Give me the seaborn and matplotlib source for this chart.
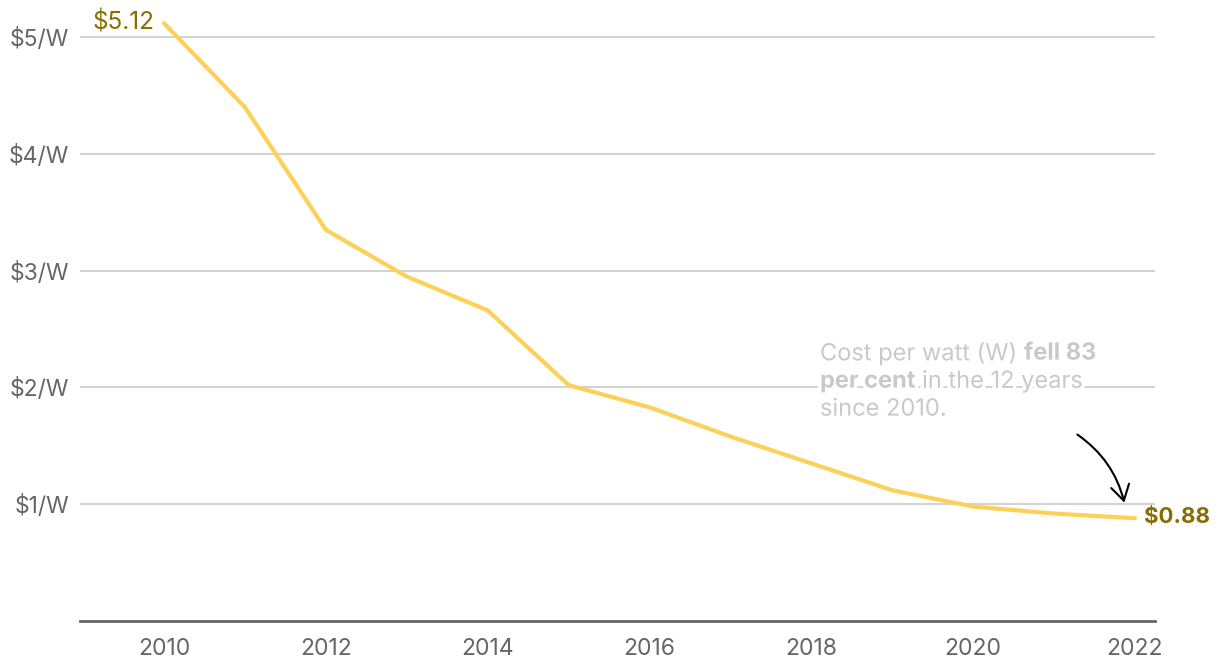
import matplotlib
matplotlib.use("Agg")
import matplotlib.pyplot as plt
import matplotlib.patheffects as pe
from matplotlib.transforms import offset_copy
import seaborn as sns
import pandas as pd

# data
years = [2010, 2011, 2012, 2013, 2014, 2015, 2016, 2017, 2018, 2019, 2020, 2021, 2022]
cost = [5.12, 4.40, 3.35, 2.95, 2.66, 2.02, 1.83, 1.58, 1.35, 1.12, 0.98, 0.92, 0.88]
ytick_vals = [1, 2, 3, 4, 5]
ytick_labels = ["\\$1/W", "\\$2/W", "\\$3/W", "\\$4/W", "\\$5/W"]
xtick_vals = [2010, 2012, 2014, 2016, 2018, 2020, 2022]

df = pd.DataFrame({"year": years, "cost": cost})

sns.set_style("white")
plt.rcParams["font.family"] = ["Inter", "DejaVu Sans"]

LINE = "#fdd158"
GOLD = "#8a6d00"
TICK = "#666666"
NOTE = "#c9c9c9"

fig = plt.figure(figsize=(12.2, 6.68), dpi=100)
ax = fig.add_axes([0.0656, 0.0704, 0.8811, 0.9089])

sns.lineplot(data=df, x="year", y="cost", ax=ax, color=LINE, linewidth=3,
             solid_capstyle="round", zorder=3)

ax.set_xlim(2008.962, 2022.247)
ax.set_ylim(0, 5.2)
ax.set_yticks(ytick_vals)
ax.set_yticklabels(ytick_labels)
ax.set_xticks(xtick_vals)
ax.set_xlabel("")
ax.set_ylabel("")
ax.yaxis.grid(True, color="#d3d3d3", linewidth=1.5)
ax.set_axisbelow(True)
for s in ["top", "right", "left"]:
    ax.spines[s].set_visible(False)
ax.spines["bottom"].set_color(TICK)
ax.spines["bottom"].set_linewidth(2)
ax.tick_params(axis="y", length=0, pad=8, labelsize=16.5, labelcolor=TICK)
ax.tick_params(axis="x", length=0, pad=12, labelsize=16.5, labelcolor=TICK)

# end labels
ax.annotate("\\$5.12", xy=(years[0], cost[0]), xytext=(-10, 1),
            textcoords="offset pixels", ha="right", va="center",
            fontsize=17.5, color=GOLD)
ax.annotate("\\$0.88", xy=(years[-1], cost[-1]), xytext=(9, 1),
            textcoords="offset pixels", ha="left", va="center",
            fontsize=16, color=GOLD, fontweight="bold")

# note text with mixed weights
halo = [pe.withStroke(linewidth=5, foreground="white")]
note_lines = [
    [("Cost per watt (W) ", "normal"), ("fell 83", "bold")],
    [("per cent", "bold"), (" in the 12 years", "normal")],
    [("since 2010.", "normal")],
]
fig.canvas.draw()
renderer = fig.canvas.get_renderer()
x0, y0 = 2018.107, 2.29
for i, parts in enumerate(note_lines):
    dx = 0
    for txt, w in parts:
        tr = offset_copy(ax.transData, fig=fig, x=dx, y=-28 * i, units="dots")
        t = ax.text(x0, y0, txt, transform=tr, ha="left", va="center",
                    fontsize=17, color=NOTE, fontweight=w, path_effects=halo,
                    zorder=4)
        bb = t.get_window_extent(renderer=renderer)
        dx += bb.width

ax.annotate("", xy=(2021.876, 0.99), xytext=(2021.26, 1.61),
            arrowprops=dict(arrowstyle="->,head_length=0.5,head_width=0.3",
                            color="black", lw=1.5, mutation_scale=22,
                            connectionstyle="arc3,rad=-0.2"))

fig.savefig("out.png", dpi=100)
